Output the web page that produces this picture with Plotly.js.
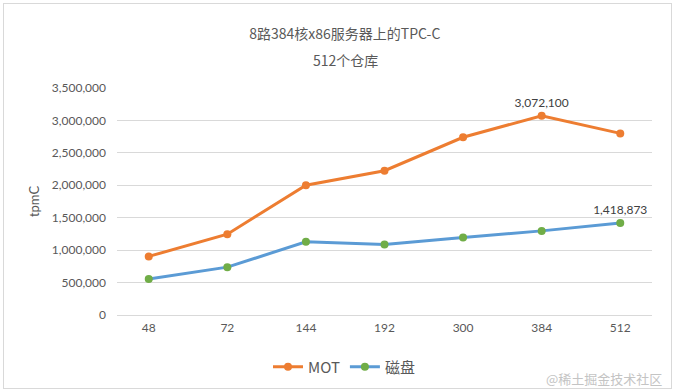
<!DOCTYPE html>
<html>
<head>
<meta charset="utf-8">
<script src="https://cdn.plot.ly/plotly-3.0.1.min.js"></script>
<style>
html,body{margin:0;padding:0;background:#fff;}
#wrap{position:relative;width:675px;height:392px;background:#fff;overflow:hidden;}
#chart{position:absolute;left:3px;top:3px;width:669px;height:386px;box-sizing:border-box;border:1px solid #d9d9d9;}
</style>
</head>
<body>
<div id="wrap"><div id="chart"></div></div>
<script>
const categories = ['48', '72', '144', '192', '300', '384', '512'];
const motValues = [903000, 1246000, 2000000, 2225000, 2740000, 3072100, 2800000];
const diskValues = [554000, 738000, 1128000, 1088000, 1195000, 1297000, 1418873];
const motLabels = ['', '', '', '', '', '3,072,100', ''];
const diskLabels = ['', '', '', '', '', '', '1,418,873'];
const seriesNames = ['MOT', '磁盘'];
const titleLine1 = '8路384核x86服务器上的TPC-C';
const titleLine2 = '512个仓库';
const yTitle = 'tpmC';
const watermark = '@稀土掘金技术社区';

const numFont = 'Lato, "Noto Sans", sans-serif';
const cjkFont = '"Noto Sans CJK SC", "Noto Sans", sans-serif';

const traces = [
  {
    type: 'scatter', mode: 'lines+markers+text', name: seriesNames[0],
    x: categories, y: motValues, text: motLabels, textposition: 'top center',
    textfont: {family: numFont, size: 12, color: '#404040'},
    line: {color: '#ED7D31', width: 3},
    marker: {color: '#ED7D31', size: 8}
  },
  {
    type: 'scatter', mode: 'lines+markers+text', name: seriesNames[1],
    x: categories, y: diskValues, text: diskLabels, textposition: 'top center',
    textfont: {family: numFont, size: 12, color: '#404040'},
    line: {color: '#5B9BD5', width: 3},
    marker: {color: '#70AD47', size: 8}
  }
];

const layout = {
  width: 667, height: 384,
  margin: {l: 113, r: 19, t: 84, b: 73, autoexpand: false},
  paper_bgcolor: '#fff', plot_bgcolor: '#fff',
  showlegend: true,
  title: {
    text: titleLine1,
    font: {family: cjkFont, size: 14, color: '#595959'},
    xref: 'container', x: 0.511, xanchor: 'center',
    yref: 'container', y: 1 - 30/384, yanchor: 'middle'
  },
  annotations: [
    {text: titleLine2, xref: 'paper', yref: 'paper', x: (341-113)/535, y: 1 + (84-56)/227,
     xanchor: 'center', yanchor: 'middle', showarrow: false,
     font: {family: cjkFont, size: 14, color: '#595959'}},
    {text: watermark, xref: 'paper', yref: 'paper', x: (660-113)/535, y: (311-374)/227,
     xanchor: 'right', yanchor: 'middle', showarrow: false,
     font: {family: cjkFont, size: 13, color: '#c4c4c4'}}
  ],
  xaxis: {
    type: 'category', categoryorder: 'array', categoryarray: categories,
    showgrid: false, showline: false, zeroline: false, ticks: '',
    tickfont: {family: numFont, size: 12, color: '#595959'},
    ticklabelstandoff: 4,
    fixedrange: true
  },
  yaxis: {
    range: [0, 3500000], dtick: 500000, tickformat: ',d',
    showgrid: true, gridcolor: '#d9d9d9', gridwidth: 1,
    zeroline: true, zerolinecolor: '#d9d9d9', zerolinewidth: 1,
    showline: false, ticks: '',
    tickfont: {family: numFont, size: 12, color: '#595959'},
    ticklabelstandoff: 10,
    title: {text: yTitle, font: {family: numFont, size: 13, color: '#595959'}, standoff: 9},
    automargin: false,
    fixedrange: true
  },
  legend: {
    orientation: 'h', xref: 'paper', yref: 'paper',
    x: (340-113)/535, xanchor: 'center', y: (311-363)/227, yanchor: 'middle',
    font: {family: cjkFont, size: 15, color: '#595959'},
    itemwidth: 30, tracegroupgap: 0
  }
};

Plotly.newPlot('chart', traces, layout, {displayModeBar: false, staticPlot: true});
</script>
</body>
</html>
